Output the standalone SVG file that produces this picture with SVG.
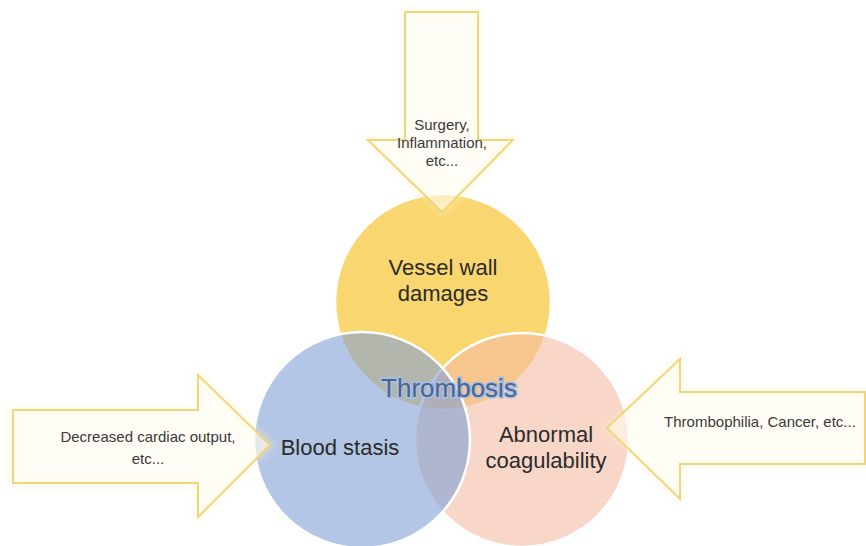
<svg xmlns="http://www.w3.org/2000/svg" width="866" height="546" viewBox="0 0 866 546">
<defs>
<style>
.circle{stroke:#ffffff;stroke-width:2.5}
.arrow{fill:#fffcee;fill-opacity:0.6;stroke:#efd67a;stroke-width:2;stroke-linejoin:miter}
.glow{fill:none;stroke:#fcf2cc;stroke-width:8;opacity:0.35}
.label{font-family:"Liberation Sans",Arial,sans-serif;font-size:22px;fill:#2b2b2b;text-anchor:middle}
.small{font-family:"Liberation Sans",Arial,sans-serif;font-size:15px;fill:#3a3a3a;text-anchor:middle}
.title{font-family:"Liberation Sans",Arial,sans-serif;font-size:26px;fill:#4c6389;stroke:#a6bfe6;stroke-width:3;paint-order:stroke;text-anchor:middle}
</style>
<filter id="soft" x="-10%" y="-10%" width="120%" height="120%">
<feGaussianBlur stdDeviation="3"/>
</filter>
</defs>
<rect width="866" height="546" fill="#ffffff"/>
<g id="vessel-wall">
<circle class="circle" cx="443" cy="302" r="108" fill="#f9d66f"/>
</g>
<g id="abnormal-coagulability">
<circle class="circle" cx="522" cy="440" r="107" fill="#f3bba3" fill-opacity="0.6"/>
</g>
<g id="blood-stasis">
<circle class="circle" cx="362" cy="440" r="108" fill="#82a0d5" fill-opacity="0.6"/>
</g>
<g id="connectors">
<path class="glow" filter="url(#soft)" d="M405,12 H478 V140 H513 L442,212 L368,140 H405 Z"/>
<path class="arrow" d="M405,12 H478 V140 H513 L442,212 L368,140 H405 Z"/>
<path class="glow" filter="url(#soft)" d="M13,410 H198 V375 L270,445 L198,517 V483 H13 Z"/>
<path class="arrow" d="M13,410 H198 V375 L270,445 L198,517 V483 H13 Z"/>
<path class="glow" filter="url(#soft)" d="M865,392 H680 V359 L607,428 L680,499 V464 H865 Z"/>
<path class="arrow" d="M865,392 H680 V359 L607,428 L680,499 V464 H865 Z"/>
</g>
<g id="label-surgery">
<text class="small" x="442" y="130">Surgery,</text>
<text class="small" x="442" y="148">Inflammation,</text>
<text class="small" x="442" y="166">etc...</text>
</g>
<g id="label-cardiac">
<text class="small" x="148" y="442">Decreased cardiac output,</text>
<text class="small" x="148" y="464">etc...</text>
</g>
<g id="label-thrombophilia">
<text class="small" x="760" y="427">Thrombophilia, Cancer, etc...</text>
</g>
<g id="text-vessel">
<text class="label" x="443" y="275">Vessel wall</text>
<text class="label" x="443" y="301">damages</text>
</g>
<g id="text-stasis">
<text class="label" x="340" y="455">Blood stasis</text>
</g>
<g id="text-coag">
<text class="label" x="546" y="442">Abnormal</text>
<text class="label" x="546" y="468">coagulability</text>
</g>
<g id="thrombosis">
<text class="title" x="449" y="397">Thrombosis</text>
</g>
</svg>
